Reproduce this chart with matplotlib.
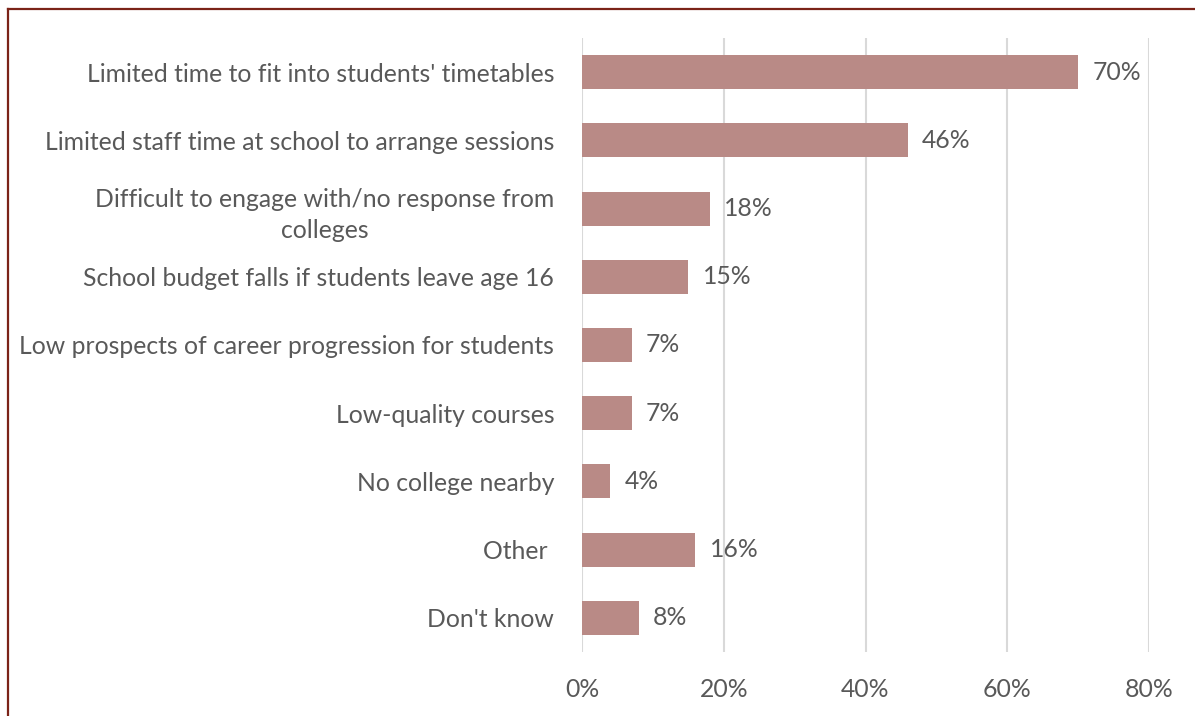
import matplotlib.pyplot as plt
from matplotlib.lines import Line2D

categories = [
    "Limited time to fit into students' timetables",
    "Limited staff time at school to arrange sessions",
    "Difficult to engage with/no response from\ncolleges",
    "School budget falls if students leave age 16",
    "Low prospects of career progression for students",
    "Low-quality courses",
    "No college nearby",
    "Other ",
    "Don't know",
]
values = [70, 46, 18, 15, 7, 7, 4, 16, 8]
xticks = [0, 20, 40, 60, 80]

plt.rcParams['font.family'] = ['Lato', 'DejaVu Sans']
text_col = '#595959'
fs = 17.8

fig = plt.figure(figsize=(11.95, 7.16), dpi=100)
ax = fig.add_axes([582 / 1195, 64 / 716, (1149 - 582) / 1195, (652 - 38) / 716])

pos = list(range(len(categories)))
ax.barh(pos, values, height=0.5, color='#B98A86', zorder=3)
for p, v in zip(pos, values):
    ax.text(v + 2.0, p, f"{v}%", va='center', ha='left', fontsize=fs, color=text_col)

ax.set_ylim(len(categories) - 0.5, -0.5)
ax.set_xlim(0, 80)
ax.set_xticks(xticks)
ax.set_xticklabels([f"{t}%" for t in xticks], fontsize=fs, color=text_col)
ax.set_yticks(pos)
ax.set_yticklabels(categories, fontsize=fs, color=text_col, multialignment='center',
                   linespacing=1.45)
ax.tick_params(axis='both', length=0)
ax.tick_params(axis='y', pad=20)
ax.tick_params(axis='x', pad=19)
ax.xaxis.grid(True, color='#D9D9D9', linewidth=1.5, zorder=0)
for s in ax.spines.values():
    s.set_visible(False)

# frame lines along top and left edge
fig.add_artist(Line2D([8 / 1195, 1], [1 - 9 / 716, 1 - 9 / 716], color='#7B2318', lw=1.6))
fig.add_artist(Line2D([8 / 1195, 8 / 1195], [0, 1 - 9 / 716], color='#7B2318', lw=1.6))

fig.savefig('out.png', dpi=100)
